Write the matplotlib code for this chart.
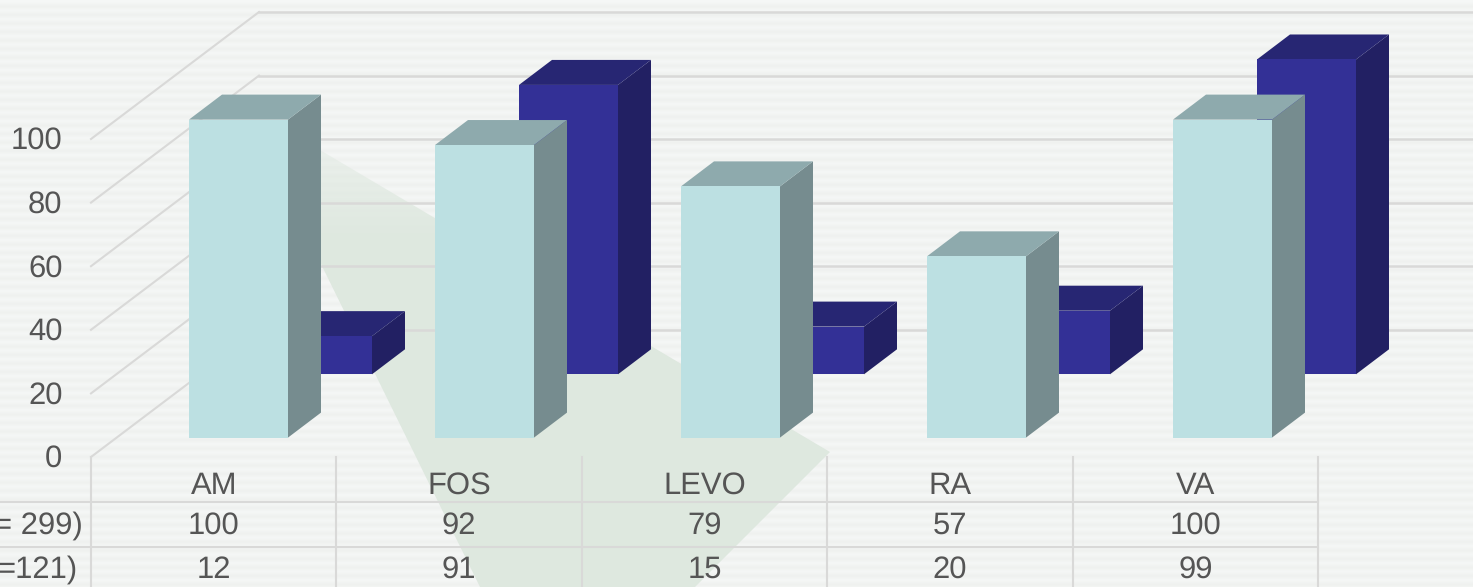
import numpy as np
import matplotlib.pyplot as plt
from matplotlib.patches import Polygon

categories = ['AM', 'FOS', 'LEVO', 'RA', 'VA']
front_values = [100, 92, 79, 57, 100]
back_values = [12, 91, 15, 20, 99]
row_labels = ['= 299)', '=121)']
y_ticks = [0, 20, 40, 60, 80, 100]

W, H = 1473, 587
PX_X = 245.4   # pixels per category
PX_Y = 3.18    # pixels per value unit
X0, Y0 = 91, 457
BAR_STEP = 246 / 245.4   # bars sit slightly wider apart than the table columns

txt_col = '#555555'
line_col = '#d9d9d8'
FS = 22.5

plt.rcParams['font.family'] = ['Liberation Sans', 'DejaVu Sans']
plt.rcParams['text.hinting'] = 'no_hinting'
plt.rcParams['text.hinting_factor'] = 1

fig = plt.figure(figsize=(W / 100, H / 100), dpi=100)
ax = fig.add_axes([0, 0, 1, 1])
xlim = (-X0 / PX_X, (W - X0) / PX_X)
ylim = ((Y0 - H) / PX_Y, Y0 / PX_Y)


# pixel offsets -> data units
def dx(px):
    return px / PX_X


def dy(px):
    return px / PX_Y


def px_x(px):
    return (px - X0) / PX_X


def px_y(px):
    return (Y0 - px) / PX_Y


# soft striped background
n_bands = int(H / 4.25)
bands = np.array([[0.0], [1.0]] * (n_bands // 2 + 1))
colors = np.array([[0.961, 0.969, 0.965], [0.937, 0.945, 0.937]])
rgb = colors[bands[:, 0].astype(int)].reshape(-1, 1, 3)
band_h = 4.25 * len(bands)
ax.imshow(rgb, extent=(xlim[0], xlim[1], px_y(band_h), px_y(0)), origin='upper',
          aspect='auto', interpolation='bilinear', zorder=0)

# pale green shape behind the chart, fading out towards its top left tip
shape = [(320, 150), (830, 452), (695, 587), (480, 587), (320, 262)]
poly = Polygon([(px_x(a), px_y(b)) for a, b in shape], fc='none', lw=0, transform=ax.transData)
ax.add_patch(poly)
fade = np.ones((60, 1, 4))
fade[:, :, :3] = [0.871, 0.910, 0.878]
fade[:, 0, 3] = np.clip(np.linspace(0, 1, 60) * 3 + 0.35, 0, 1)
im = ax.imshow(fade, extent=(px_x(300), px_x(850), px_y(590), px_y(140)), origin='upper',
               aspect='auto', interpolation='bilinear', zorder=1)
im.set_clip_path(poly)

# back wall and side wall gridlines
wall_dx, wall_dy = 168, 127
for v in y_ticks:
    x_back = dx(wall_dx)
    y_back = v + dy(wall_dy)
    ax.plot([0, x_back], [v, y_back], color=line_col, lw=1.5, zorder=2)
    ax.plot([x_back, px_x(W)], [y_back, y_back], color=line_col, lw=1.8, zorder=2)
    ax.text(px_x(62.5), v - dy(2), str(v), ha='right', va='center', fontsize=FS, color=txt_col, zorder=5)

# table lines
for i in range(len(categories) + 1):
    ax.plot([i, i], [0, px_y(H)], color=line_col, lw=1.5, zorder=2)
for b in [502, 547]:
    ax.plot([px_x(0), len(categories)], [px_y(b), px_y(b)], color=line_col, lw=1.5, zorder=2)


def draw_bar(i, value, off_x, off_y, c_front, c_top, c_side):
    # one box: front face through ax.bar, top and side as polygons
    width = dx(99)
    depth_x = dx(33)
    depth_y = dy(25)
    left = i * BAR_STEP + off_x
    base = off_y
    top = base + value
    ax.add_patch(Polygon([(left + width, base), (left + width + depth_x, base + depth_y),
                          (left + width + depth_x, top + depth_y), (left + width, top)],
                         color=c_side, lw=0, zorder=3))
    ax.add_patch(Polygon([(left, top), (left + depth_x, top + depth_y),
                          (left + width + depth_x, top + depth_y), (left + width, top)],
                         color=c_top, lw=0, zorder=3))
    ax.bar(left, value, width=width, bottom=base, align='edge', color=c_front, lw=0, zorder=3)


for i, v in enumerate(back_values):
    draw_bar(i, v, dx(182), dy(82.7), '#333096', '#272673', '#222063')
for i, v in enumerate(front_values):
    draw_bar(i, v, dx(98), dy(19.4), '#bce0e2', '#8eaaad', '#768c8f')

# table text
for i, name in enumerate(categories):
    ax.text(i + 0.5, px_y(486), name, ha='center', va='center', fontsize=FS, color=txt_col, zorder=5)
    ax.text(i + 0.5, px_y(526), str(front_values[i]), ha='center', va='center', fontsize=FS, color=txt_col, zorder=5)
    ax.text(i + 0.5, px_y(570), str(back_values[i]), ha='center', va='center', fontsize=FS, color=txt_col, zorder=5)
ax.text(px_x(83), px_y(526), row_labels[0], ha='right', va='center', fontsize=FS, color=txt_col, zorder=5)
ax.text(px_x(78), px_y(570), row_labels[1], ha='right', va='center', fontsize=FS, color=txt_col, zorder=5)

ax.set_xlim(xlim)
ax.set_ylim(ylim)
ax.axis('off')

fig.savefig('out.png', dpi=100)
